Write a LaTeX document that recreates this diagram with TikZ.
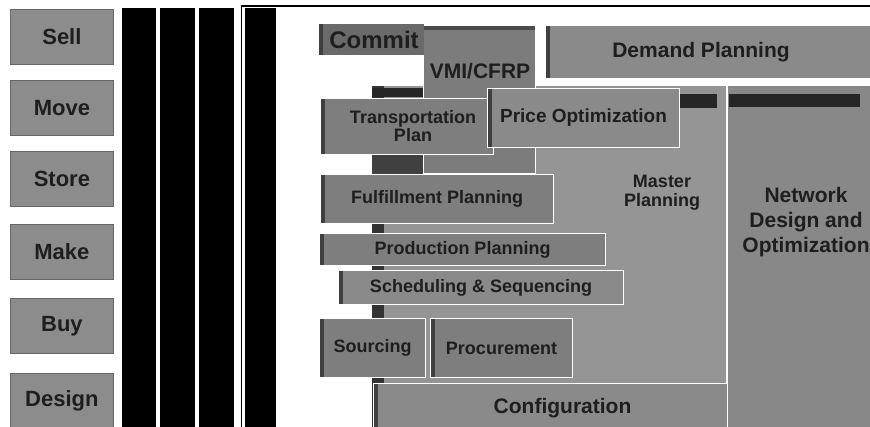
\documentclass[tikz,border=0pt]{standalone}
\usepackage{fontspec}
\setmainfont{Liberation Sans}
\usepackage{xcolor}
\usepackage{tikz}
\usetikzlibrary{positioning}
\usetikzlibrary{calc}

\definecolor{sidegray}{HTML}{8C8C8C}
\definecolor{commitgray}{HTML}{6A6A6A}
\definecolor{vmigray}{HTML}{7C7C7C}
\definecolor{demandgray}{HTML}{8A8A8A}
\definecolor{panelgray}{HTML}{959595}
\definecolor{netgray}{HTML}{888888}
\definecolor{plangray}{HTML}{7E7E7E}
\definecolor{textdark}{HTML}{1E1E1E}

\begin{document}
\begin{tikzpicture}[x=1pt,y=-1pt]
    % Fix the size of the picture
    \useasboundingbox (0,0) rectangle (870,427);
    \clip (0,0) rectangle (870,427);

    % Define the styles of the boxes
    \tikzset{
        side box/.style={anchor=north west, fill=sidegray, draw=black!60, line width=0.8pt,
            minimum width=103, minimum height=55, inner sep=0pt, text=textdark,
            font=\fontsize{22}{22}\selectfont\bfseries},
        plan box/.style={anchor=north west, fill=plangray, draw=white, line width=1pt,
            inner sep=0pt, text=textdark, align=center,
            font=\fontsize{18}{18}\selectfont\bfseries,
            path picture={\fill[black!75] (path picture bounding box.north west)
                rectangle ([xshift=4pt]path picture bounding box.south west);}},
        plan text/.style={text=textdark, align=center, inner sep=0pt}
    }

    % Draw the left column of boxes
    \foreach \name/\top in {Sell/9, Move/80, Store/151, Make/224, Buy/298, Design/373}
        \node[side box] (side-\name) at (10,\top) {\name};

    % Draw the black bars
    \foreach \left/\right in {122/156, 160/195, 199/234, 245/276}
        \fill[black] (\left,8) rectangle (\right,427);
    \draw[black, line width=1pt] (241.5,6) -- (241.5,427);
    \draw[black, line width=2pt] (241,6) -- (870,6);

    % Draw the planning panels
    \fill[panelgray] (372,86) rectangle (727,427);
    \fill[black!80] (372,86) rectangle (384,427);
    \fill[black!85] (372,88) rectangle (423,97);
    \fill[black!75] (372,154) rectangle (423,174);
    \fill[netgray] (727,86) rectangle (870,427);
    \draw[white, line width=1.5pt] (727,86) -- (727,427);
    \fill[black!85] (679,94) rectangle (717,108);
    \fill[black!85] (729,94) rectangle (860,107);

    % Draw the VMI/CFRP box behind the others
    \filldraw[fill=vmigray, draw=white, line width=1pt] (423,26) rectangle (535,174);
    \fill[black!70] (423,26) rectangle (535,30);
    \node[plan text, font=\fontsize{21}{21}\selectfont\bfseries] (vmi) at (480,71) {VMI/CFRP};

    % Draw the top boxes
    \node[plan box, fill=commitgray, draw=none, minimum width=105, minimum height=31,
        font=\fontsize{24}{24}\selectfont\bfseries] (commit) at (318,24) {\hspace*{6pt}Commit};
    \node[plan box, fill=demandgray, draw=none, minimum width=325, minimum height=52,
        font=\fontsize{21}{21}\selectfont\bfseries] (demand) at (545,26) {Demand Planning\hspace*{14pt}};

    % Draw the planning boxes
    \node[plan box, minimum width=173, minimum height=56] (transport) at (320,98) {\hspace*{12pt}Transportation\\\hspace*{12pt}Plan};
    \node[plan box, fill=demandgray, minimum width=192, minimum height=59,
        font=\fontsize{19}{19}\selectfont\bfseries] (price) at (487,88) {Price Optimization};
    \node[plan box, minimum width=233, minimum height=49] (fulfil) at (320,174) {Fulfillment Planning};
    \node[plan box, minimum width=286, minimum height=32] (production) at (319,233) {Production Planning};
    \node[plan box, fill=demandgray, minimum width=285, minimum height=34] (schedule) at (338,270) {Scheduling \& Sequencing};
    \node[plan box, minimum width=106, minimum height=59] (sourcing) at (319,318) {Sourcing};
    \node[plan box, minimum width=142, minimum height=59] (procure) at (430,318) {Procurement};
    \node[plan box, fill=demandgray, minimum width=354, minimum height=50,
        font=\fontsize{21}{21}\selectfont\bfseries] (config) at (373,383) {\hspace*{24pt}Configuration};

    % Label the panels
    \node[plan text, font=\fontsize{18}{19}\selectfont\bfseries] (master) at (662,193) {Master\\Planning};
    \node[plan text, font=\fontsize{21}{25}\selectfont\bfseries] (network) at (806,222) {Network\\Design and\\Optimization};
\end{tikzpicture}
\end{document}
